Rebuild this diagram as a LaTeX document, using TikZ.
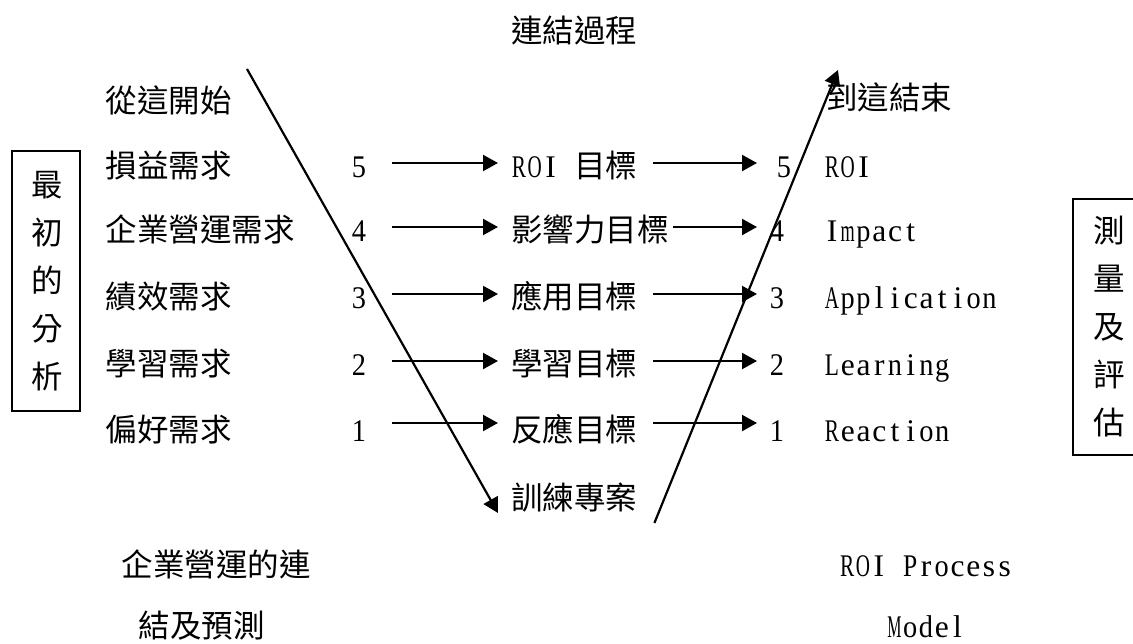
\documentclass[tikz,border=0pt]{standalone}
\usepackage{fontspec}
\usepackage{graphicx}
\setmainfont{Noto Sans CJK TC}
\newfontfamily\latf{Liberation Serif}
\newlength\cellw
\setlength\cellw{15.75pt}
\newsavebox\cellbox
\newcommand\monochar[1]{\sbox\cellbox{#1}%
  \ifdim\wd\cellbox>0.9\cellw
    \makebox[\cellw]{\resizebox{0.9\cellw}{\height}{#1}}%
  \else
    \makebox[\cellw]{#1}%
  \fi}
\ExplSyntaxOn
\NewDocumentCommand\mono{m}{ \tl_map_inline:nn {#1} { \monochar{##1} } }
\ExplSyntaxOff
\newcommand\msp{\hspace*{\cellw}}
\usetikzlibrary{arrows.meta,calc}
\begin{document}
\begin{tikzpicture}[x=1pt,y=-1pt,
  txt/.style={anchor=base west, inner sep=0pt, font=\fontsize{31.5}{36}\selectfont},
  ctxt/.style={anchor=base, inner sep=0pt, font=\fontsize{31.5}{36}\selectfont},
  lt/.style={anchor=base west, inner sep=0pt, font=\fontsize{31.5}{36}\selectfont\latf},
  clt/.style={anchor=base, inner sep=0pt, font=\fontsize{31.5}{36}\selectfont\latf},
  vbox/.style={draw, line width=1.3pt, inner sep=0pt, align=center,
    font=\fontsize{31.5}{48}\selectfont},
  arr/.style={line width=2.2pt, -{Triangle[length=15pt,width=16pt]}},
]
\clip (0,0) rectangle (1133,643);
\fill[white] (0,0) rectangle (1133,643);

% side boxes
\node[vbox, minimum width=68pt, minimum height=260pt] (lbox) at (46,281) {\hspace*{3pt}最\\\hspace*{3pt}初\\\hspace*{3pt}的\\\hspace*{3pt}分\\\hspace*{3pt}析};
\node[vbox, minimum width=67pt, minimum height=256pt] (rbox) at (1106.5,327) {\hspace*{6pt}測\\\hspace*{6pt}量\\\hspace*{6pt}及\\\hspace*{6pt}評\\\hspace*{6pt}估};

% headers
\node[txt] (top) at (511,42.5) {連結過程};
\node[txt] (start) at (105.5,112) {從這開始};
\node[txt] (finish) at (826,109) {到這結束};

% left needs
\node[txt] (a5) at (105.5,177) {損益需求};
\node[txt] (a4) at (105.5,241) {企業營運需求};
\node[txt] (a3) at (105.5,308) {績效需求};
\node[txt] (a2) at (105.5,375) {學習需求};
\node[txt] (a1) at (105.5,441) {偏好需求};

% left numbers
\node[lt] (n5) at (351,177) {\mono{5}};
\node[lt] (n4) at (351,241) {\mono{4}};
\node[lt] (n3) at (351,308) {\mono{3}};
\node[lt] (n2) at (351,375) {\mono{2}};
\node[lt] (n1) at (351,441) {\mono{1}};

% middle objectives
\node[txt] (g5) at (511,177) {{\latf\mono{ROI}\msp}目標};
\node[txt] (g4) at (511,241) {影響力目標};
\node[txt] (g3) at (511,308) {應用目標};
\node[txt] (g2) at (511,375) {學習目標};
\node[txt] (g1) at (511,441) {反應目標};
\node[txt] (train) at (511,509) {訓練專案};

% right numbers
\node[lt] (m5) at (776,177) {\mono{5}};
\node[lt] (m4) at (769,241) {\mono{4}};
\node[lt] (m3) at (769,308) {\mono{3}};
\node[lt] (m2) at (769,375) {\mono{2}};
\node[lt] (m1) at (769,441) {\mono{1}};

% right levels
\node[lt] (r5) at (824,177) {\mono{ROI}};
\node[lt] (r4) at (824,241) {\mono{Impact}};
\node[lt] (r3) at (824,308) {\mono{Application}};
\node[lt] (r2) at (824,375) {\mono{Learning}};
\node[lt] (r1) at (824,441) {\mono{Reaction}};

% captions
\node[ctxt] (capL1) at (216,576) {企業營運的連};
\node[ctxt] (capL2) at (201.5,637) {結及預測};
\node[clt] (capR1) at (926,576) {\mono{ROI}\msp\mono{Process}};
\node[clt] (capR2) at (926,637) {\mono{Model}};

% left arrows
\draw[arr] ([shift={(25pt,14pt)}]n5.base east) -- ([shift={(-13pt,14pt)}]g5.base west);
\draw[arr] ([shift={(25pt,14pt)}]n4.base east) -- ([shift={(-13pt,14pt)}]g4.base west);
\draw[arr] ([shift={(25pt,14pt)}]n3.base east) -- ([shift={(-13pt,14pt)}]g3.base west);
\draw[arr] ([shift={(25pt,14pt)}]n2.base east) -- ([shift={(-13pt,14pt)}]g2.base west);
\draw[arr] ([shift={(25pt,18pt)}]n1.base east) -- ([shift={(-13pt,18pt)}]g1.base west);

% right arrows
\draw[arr] ([shift={(16pt,14pt)}]g5.base east) -- ([shift={(-19pt,14pt)}]m5.base west);
\draw[arr] ([shift={(4.5pt,14pt)}]g4.base east) -- ([shift={(-12pt,14pt)}]m4.base west);
\draw[arr] ([shift={(16pt,14pt)}]g3.base east) -- ([shift={(-12pt,14pt)}]m3.base west);
\draw[arr] ([shift={(16pt,14pt)}]g2.base east) -- ([shift={(-12pt,14pt)}]m2.base west);
\draw[arr] ([shift={(16pt,18pt)}]g1.base east) -- ([shift={(-12pt,18pt)}]m1.base west);

% diagonals
\coordinate (d1s) at (247,69);
\draw[arr] (d1s) -- ([shift={(-13pt,-4pt)}]train.base west);
\draw[arr] ([shift={(17pt,-14pt)}]train.base east) -- ([shift={(12pt,39pt)}]finish.base west);
\end{tikzpicture}
\end{document}
